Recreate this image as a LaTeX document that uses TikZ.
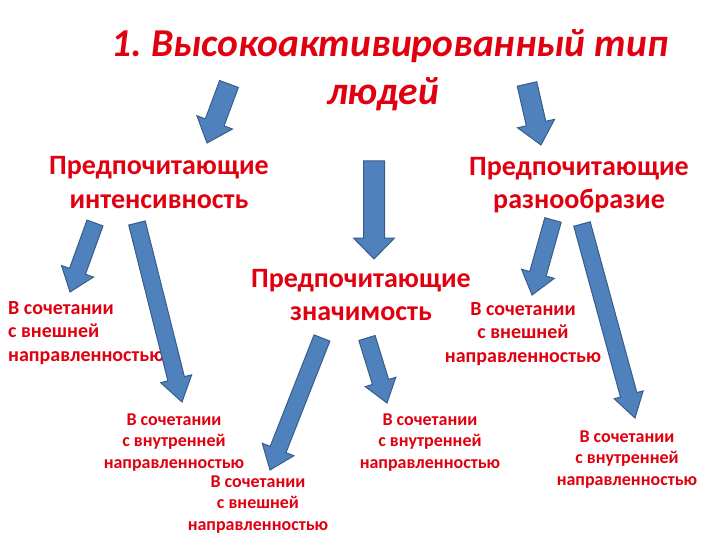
\documentclass[tikz,border=0pt]{standalone}
\usepackage{fontspec}
\setmainfont{Carlito}
\frenchspacing
\definecolor{tred}{RGB}{224,0,16}
\definecolor{afill}{RGB}{79,129,189}
\definecolor{aline}{RGB}{56,93,138}
\newcommand\blockarrow[5]{%
  \pgfpointdiff{\pgfpointanchor{#1}{center}}{\pgfpointanchor{#2}{center}}%
  \pgfgetlastxy{\baDx}{\baDy}%
  \pgfmathsetmacro\baAng{atan2(\baDy,\baDx)}%
  \pgfmathsetmacro\baLen{veclen(\baDx,\baDy)}%
  \pgfmathsetmacro\baNeck{\baLen-#5}%
  \pgfmathsetmacro\baS{#3/2}%
  \pgfmathsetmacro\baH{#4/2}%
  \draw[blockarr,shift={(#1)},rotate=\baAng]
    (0,-\baS) -- (\baNeck,-\baS) -- (\baNeck,-\baH) -- (\baLen,0)
    -- (\baNeck,\baH) -- (\baNeck,\baS) -- (0,\baS) -- cycle;
}
\begin{document}
\begin{tikzpicture}[x=1pt,y=-1pt,
  blockarr/.style={fill=afill,draw=aline,line width=1pt,line join=miter},
  titletext/.style={text=tred,font=\fontsize{39.5}{48}\selectfont\bfseries\itshape,align=center,anchor=base,inner sep=0pt},
  headtext/.style={text=tred,font=\fontsize{28}{33}\selectfont\bfseries,align=center,anchor=base,inner sep=0pt},
  smalltext/.style={text=tred,font=\fontsize{18}{21.5}\selectfont\bfseries,align=center,anchor=base,inner sep=0pt},
  bigsmalltext/.style={text=tred,font=\fontsize{20}{23.5}\selectfont\bfseries,align=center,anchor=base,inner sep=0pt}]
\useasboundingbox[fill=white] (0,0) rectangle (720,540);

\node[titletext] (title) at (390,105) {1. Высокоактивированный тип\\людей\hspace*{14pt}};

\node[headtext] (intens) at (159,208) {Предпочитающие\\интенсивность};
\node[headtext] (razn) at (579,209) {Предпочитающие\\разнообразие};
\node[headtext] (znach) at (361,320) {Предпочитающие\\значимость};

\node[bigsmalltext,align=left,anchor=base west] (t1) at (8,361) {В сочетании\\с внешней\\направленностью};
\node[bigsmalltext] (t4) at (523,362) {В сочетании\\с внешней\\направленностью};
\node[smalltext] (t2) at (174,468) {В сочетании\\с внутренней\\направленностью};
\node[smalltext] (t3) at (258,530) {В сочетании\\с внешней\\направленностью};
\node[smalltext] (t5) at (430,468) {В сочетании\\с внутренней\\направленностью};
\node[smalltext] (t6) at (627,485) {В сочетании\\с внутренней\\направленностью};

\coordinate (a1t) at (229,84);  \coordinate (a1h) at (207,143);
\coordinate (a2t) at (374,161); \coordinate (a2h) at (374,259);
\coordinate (a3t) at (527,84);  \coordinate (a3h) at (541,145);
\coordinate (a4t) at (95,223);  \coordinate (a4h) at (70,292);
\coordinate (a5t) at (137,223); \coordinate (a5h) at (182,402);
\coordinate (a6t) at (322,338); \coordinate (a6h) at (270,470);
\coordinate (a7t) at (367,338); \coordinate (a7h) at (387,403);
\coordinate (a8t) at (553,220); \coordinate (a8h) at (532,295);
\coordinate (a9t) at (582,224); \coordinate (a9h) at (635,418);

\blockarrow{a1t}{a1h}{20}{38}{22}
\blockarrow{a2t}{a2h}{21}{41}{21}
\blockarrow{a3t}{a3h}{20}{38}{22}
\blockarrow{a4t}{a4h}{17}{34}{22}
\blockarrow{a5t}{a5h}{17}{32}{24}
\blockarrow{a6t}{a6h}{17}{34}{22}
\blockarrow{a7t}{a7h}{17}{32}{22}
\blockarrow{a8t}{a8h}{17}{34}{22}
\blockarrow{a9t}{a9h}{17}{30}{24}
\end{tikzpicture}
\end{document}
